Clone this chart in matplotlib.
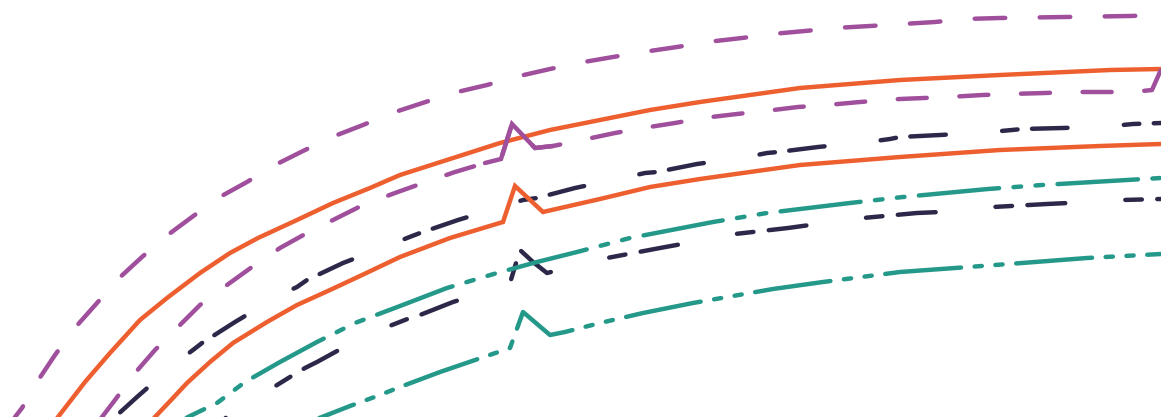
import numpy as np
import matplotlib.pyplot as plt

plt.rcParams['lines.scale_dashes'] = False

# curves (x position, level above the bottom edge)
purple_hi_x = [12, 15, 22, 37, 55, 73, 97, 117, 142, 165, 192, 218, 247, 273, 303, 332, 363, 392, 453, 487, 515,
               550, 578, 613, 643, 677, 707, 742, 772, 805, 835, 870, 935, 965, 1000, 1065, 1130, 1161]
purple_hi_y = [-8, 0, 9, 35, 62, 87, 114, 137, 160, 180, 200, 219, 235, 251, 266, 280, 292, 304, 324, 332, 340,
               348, 354, 360, 365, 370, 375, 379, 383, 386, 389, 391, 395, 398, 399, 400, 401, 402]

purple_lo_x = [96, 102, 115, 135, 155, 178, 200, 227, 252, 280, 307, 337, 363, 395, 423, 455, 485, 501, 512, 535,
               553, 582, 615, 643, 675, 703, 737, 765, 798, 827, 860, 900, 948, 983, 1010, 1045, 1072, 1105, 1133,
               1152, 1167]
purple_lo_y = [-8, 0, 17, 44, 67, 90, 112, 132, 150, 169, 184, 199, 212, 224, 234, 245, 254, 258, 293, 269,
               271, 277, 284, 289, 294, 299, 303, 306, 310, 312, 315, 318, 320, 322, 323, 324, 325, 325, 325,
               327, 361]

orange_hi_x = [52, 58, 85, 110, 140, 167, 200, 230, 258, 297, 333, 370, 400, 450, 500, 550, 600, 650, 700, 800,
               900, 1000, 1110, 1161]
orange_hi_y = [-8, 0, 35, 64, 97, 119, 144, 164, 179, 197, 214, 229, 242, 258, 274, 287, 297, 307, 315, 329,
               337, 342, 347, 348]

orange_lo_x = [148, 155, 173, 187, 210, 233, 267, 297, 330, 360, 400, 450, 503, 515, 543, 600, 650, 700, 800,
               900, 1000, 1100, 1161]
orange_lo_y = [-8, 0, 19, 34, 55, 74, 95, 112, 127, 141, 160, 179, 195, 231, 205, 218, 230, 238, 252,
               260, 267, 271, 273]

navy_hi_x = [107, 115, 137, 177, 193, 202, 235, 280, 297, 307, 343, 390, 407, 420, 458, 507, 523, 537, 575, 627,
             645, 657, 697, 747, 767, 778, 818, 868, 890, 900, 940, 990, 1012, 1022, 1063, 1112, 1133, 1161]
navy_hi_y = [-8, 0, 20, 55, 67, 74, 95, 122, 130, 137, 154, 172, 179, 184, 197, 212, 217, 219, 229, 240,
             244, 245, 253, 260, 264, 265, 270, 275, 278, 280, 282, 285, 287, 288, 289, 291, 293, 294]

navy_lo_x = [215, 227, 248, 290, 305, 317, 348, 392, 410, 420, 453, 500, 510, 520, 533, 547, 555, 567, 607, 660,
             682, 693, 735, 788, 810, 822, 863, 917, 940, 950, 993, 1047, 1068, 1080, 1122, 1161]
navy_lo_y = [-8, 0, 14, 40, 49, 55, 72, 92, 99, 102, 115, 130, 134, 167, 155, 144, 146, 149, 159, 169,
             173, 175, 183, 189, 192, 194, 199, 204, 205, 206, 210, 213, 214, 215, 217, 218]

teal_hi_x = [175, 188, 217, 245, 280, 317, 355, 400, 447, 497, 537, 577, 630, 713, 767, 850, 903, 988, 1042,
             1127, 1161]
teal_hi_y = [-8, 0, 14, 35, 55, 75, 94, 111, 129, 144, 155, 165, 179, 195, 204, 214, 220, 228, 232,
             237, 239]

teal_lo_x = [300, 322, 350, 380, 400, 440, 478, 510, 523, 550, 565, 600, 643, 693, 773, 823, 900, 955, 1035,
             1087, 1161]
teal_lo_y = [-8, 0, 11, 22, 30, 45, 58, 69, 105, 82, 85, 94, 104, 114, 128, 135, 145, 149, 155,
             159, 163]

PURPLE = '#a04f9c'
ORANGE = '#ee5f30'
NAVY = '#2c2849'
TEAL = '#24998a'

# dash sequences in points, measured per line
purple_hi_seq = (22.0, 24.8)
purple_lo_seq = (20.9, 23.5)
navy_hi_seq = (11.2, 10.4, 25.6, 40.6)
navy_lo_seq = (11.9, 11.1, 27.3, 43.3)
teal_hi_seq = (58.0, 10.4, 5.5, 10.4, 5.5, 10.4)
teal_lo_seq = (54.8, 9.8, 5.2, 9.8, 5.2, 9.8)

DPI = 100
LW = 3.2

fig = plt.figure(figsize=(11.61, 4.17), dpi=DPI)
ax = fig.add_axes([0, 0, 1, 1])
ax.set_xlim(0, 1161)
ax.set_ylim(0, 417)
ax.axis('off')


def phased(xs, ys, x_start, seq):
    # shift the dash pattern so that a sequence starts at x_start
    pts = ax.transData.transform(np.column_stack([xs, ys]))
    arc = np.concatenate([[0], np.cumsum(np.hypot(*np.diff(pts, axis=0).T))])
    s = np.interp(x_start, xs, arc) + LW * DPI / 72 / 2
    period = sum(seq) * DPI / 72
    return ((-s) % period) * 72 / DPI, seq


common = dict(lw=LW, dash_capstyle='round', solid_capstyle='round', solid_joinstyle='miter')

ax.plot(navy_hi_x, navy_hi_y, color=NAVY, linestyle=phased(navy_hi_x, navy_hi_y, 990, navy_hi_seq), **common)
ax.plot(navy_lo_x, navy_lo_y, color=NAVY, linestyle=phased(navy_lo_x, navy_lo_y, 500, navy_lo_seq), **common)
ax.plot(teal_hi_x, teal_hi_y, color=TEAL, linestyle=phased(teal_hi_x, teal_hi_y, 1042, teal_hi_seq), **common)
ax.plot(teal_lo_x, teal_lo_y, color=TEAL, linestyle=phased(teal_lo_x, teal_lo_y, 508, teal_lo_seq), **common)
ax.plot(orange_hi_x, orange_hi_y, color=ORANGE, linestyle='-', **common)
ax.plot(orange_lo_x, orange_lo_y, color=ORANGE, linestyle='-', **common)
ax.plot(purple_hi_x, purple_hi_y, color=PURPLE,
        linestyle=phased(purple_hi_x, purple_hi_y, 965, purple_hi_seq), **common)
ax.plot(purple_lo_x, purple_lo_y, color=PURPLE,
        linestyle=phased(purple_lo_x, purple_lo_y, 1010, purple_lo_seq), **common)

# the purple spike is drawn unbroken in the original
bx = np.array(purple_lo_x)
spike = (bx >= 485) & (bx <= 553)
ax.plot(bx[spike], np.array(purple_lo_y)[spike], color=PURPLE, linestyle='-', **common)

fig.savefig('out.png', dpi=DPI)
